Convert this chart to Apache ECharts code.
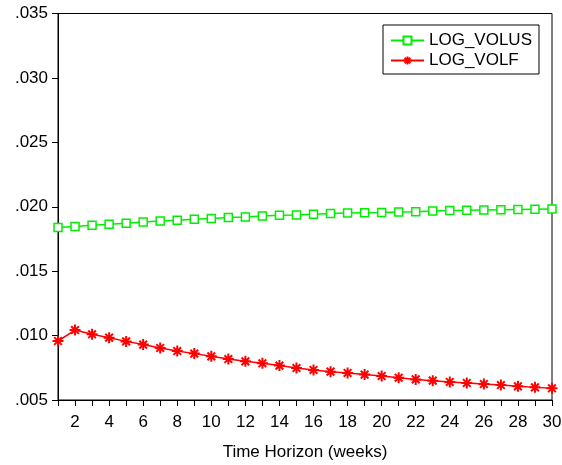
<!DOCTYPE html>
<html>
<head>
<meta charset="utf-8">
<script src="https://cdn.jsdelivr.net/npm/echarts@6/dist/echarts.min.js"></script>
<style>
  html, body { margin: 0; padding: 0; background: #fff; overflow: hidden; width: 562px; height: 465px; }
  #chart { width: 562px; height: 465px; }
</style>
</head>
<body>
<div id="chart"></div>
<script>
// Forecast horizon in weeks
const weeks = [1,2,3,4,5,6,7,8,9,10,11,12,13,14,15,16,17,18,19,20,21,22,23,24,25,26,27,28,29,30];

const logVolus = [
  0.01838, 0.01846, 0.01856, 0.01864, 0.01872, 0.01882, 0.01890, 0.01895, 0.01903, 0.01908,
  0.01916, 0.01921, 0.01929, 0.01934, 0.01936, 0.01942, 0.01947, 0.01952, 0.01954, 0.01956,
  0.01960, 0.01962, 0.01967, 0.01970, 0.01972, 0.01975, 0.01977, 0.01979, 0.01981, 0.01983
];

const logVolf = [
  0.00958, 0.01043, 0.01010, 0.00984, 0.00955, 0.00930, 0.00904, 0.00880, 0.00860, 0.00839,
  0.00818, 0.00800, 0.00785, 0.00767, 0.00748, 0.00733, 0.00720, 0.00710, 0.00697, 0.00686,
  0.00673, 0.00660, 0.00650, 0.00640, 0.00632, 0.00624, 0.00616, 0.00606, 0.00598, 0.00591
];

const seriesNames = ['LOG_VOLUS', 'LOG_VOLF'];
const xAxisTitle = 'Time Horizon (weeks)';

const FONT = '"Liberation Sans", Arial, sans-serif';
const FS = 17;
const asterisk = 'path://M5,0L5,10M0,5L10,5M1.5,1.5L8.5,8.5M1.5,8.5L8.5,1.5';

const chart = echarts.init(document.getElementById('chart'), null, { renderer: 'canvas' });

chart.setOption({
  animation: false,
  backgroundColor: '#fff',
  grid: {
    left: 58, right: 10, top: 13.5, bottom: 65,
    outerBoundsMode: 'none',
    containLabel: false,
    show: true, borderColor: '#000', borderWidth: 1, backgroundColor: 'transparent'
  },
  legend: {
    orient: 'vertical',
    left: 383, top: 25,
    padding: [7, 7, 5, 7],
    itemGap: 3,
    itemWidth: 33,
    itemHeight: 10,
    borderColor: '#000',
    borderWidth: 1,
    textStyle: { fontFamily: FONT, fontSize: FS, color: '#000' },
    data: seriesNames
  },
  xAxis: {
    type: 'category',
    data: weeks,
    boundaryGap: false,
    name: xAxisTitle,
    nameLocation: 'middle',
    nameGap: 44,
    nameTextStyle: { fontFamily: FONT, fontSize: FS, color: '#000' },
    axisLine: { lineStyle: { color: '#000', width: 1 } },
    axisTick: { show: true, inside: false, length: 6, interval: 0, lineStyle: { color: '#000' } },
    axisLabel: {
      interval: (i) => i % 2 === 1,
      margin: 14,
      fontFamily: FONT, fontSize: FS, color: '#000'
    },
    splitLine: { show: false }
  },
  yAxis: {
    type: 'value',
    min: 0.005, max: 0.035, interval: 0.005,
    axisLine: { show: true, lineStyle: { color: '#000', width: 1 } },
    axisTick: { show: true, inside: false, length: 6, lineStyle: { color: '#000' } },
    axisLabel: {
      margin: 10,
      fontFamily: FONT, fontSize: FS, color: '#000',
      formatter: (v) => v.toFixed(3).replace(/^0/, '')
    },
    splitLine: { show: false }
  },
  series: [
    {
      name: seriesNames[0],
      type: 'line',
      data: logVolus,
      symbol: 'rect',
      symbolSize: 8,
      showAllSymbol: true,
      lineStyle: { color: '#00ee00', width: 1.5 },
      itemStyle: { color: '#fff', borderColor: '#00ee00', borderWidth: 1.5 }
    },
    {
      name: seriesNames[1],
      type: 'line',
      data: logVolf,
      symbol: asterisk,
      symbolSize: 11,
      showAllSymbol: true,
      lineStyle: { color: '#ff0000', width: 1.5 },
      itemStyle: { color: '#ff0000', borderColor: '#ff0000', borderWidth: 2 }
    }
  ]
});
</script>
</body>
</html>
